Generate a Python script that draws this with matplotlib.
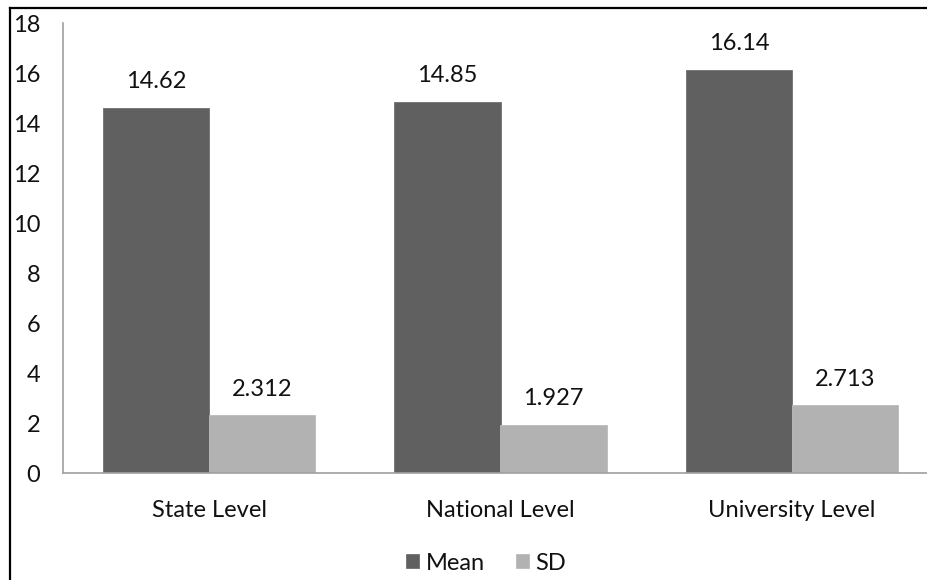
import matplotlib
matplotlib.use("Agg")
import matplotlib.pyplot as plt
import numpy as np
from matplotlib.lines import Line2D

categories = ["State Level", "National Level", "University Level"]
mean_vals = [14.62, 14.85, 16.14]
sd_vals = [2.312, 1.927, 2.713]
mean_labels = ["14.62", "14.85", "16.14"]
sd_labels = ["2.312", "1.927", "2.713"]
yticks = [0, 2, 4, 6, 8, 10, 12, 14, 16, 18]

plt.rcParams['font.family'] = ['Lato', 'DejaVu Sans']
FS = 17
W, H = 927, 580
fig = plt.figure(figsize=(W/100, H/100), dpi=100)
fig.patch.set_facecolor('white')

# axes: left 63, right ~938 (cropped), bottom 473, top 23
x0, x1, yb, yt = 63.25, 937.75, 473, 23
ax = fig.add_axes([x0/W, 1-yb/H, (x1-x0)/W, (yb-yt)/H])

x = np.arange(len(categories))
bw = 0.364
ax.bar(x - bw/2, mean_vals, bw, color='#606060', label='Mean', edgecolor='#707070', linewidth=0.6)
ax.bar(x + bw/2, sd_vals, bw, color='#B2B2B2', label='SD', edgecolor='#BBBBBB', linewidth=0.6)

for i in range(len(categories)):
    ax.annotate(mean_labels[i], (x[i]-bw/2, mean_vals[i]), xytext=(0, 26), textcoords='offset pixels',
                ha='center', va='center', fontsize=FS, color='#111111')
    ax.annotate(sd_labels[i], (x[i]+bw/2, sd_vals[i]), xytext=(0, 26), textcoords='offset pixels',
                ha='center', va='center', fontsize=FS, color='#111111')

ax.set_xlim(-0.5, len(categories)-0.5)
ax.set_ylim(0, 18)
ax.set_yticks(yticks)
ax.set_yticklabels([str(t) for t in yticks], fontsize=FS, color='#111111')
ax.set_xticks(x)
ax.set_xticklabels(categories, fontsize=FS, color='#111111')
ax.tick_params(axis='y', length=0, pad=16.5)
ax.tick_params(axis='x', length=0, pad=19.5)
for s in ['top', 'right']:
    ax.spines[s].set_visible(False)
for s in ['left', 'bottom']:
    ax.spines[s].set_color('#A0A0A0')
    ax.spines[s].set_linewidth(1.2)
ax.set_facecolor('none')

leg = fig.legend(loc='center', bbox_to_anchor=(486/W, 1-563/H), ncol=2, frameon=False,
                 fontsize=FS, handlelength=0.55, handleheight=0.55, handletextpad=0.3,
                 columnspacing=1.3)
for t in leg.get_texts():
    t.set_color('#111111')

# figure border lines (top and left)
fig.add_artist(Line2D([9.5/W, 1.0], [1-7.5/H, 1-7.5/H], transform=fig.transFigure, color='black', linewidth=1.6))
fig.add_artist(Line2D([9.5/W, 9.5/W], [0, 1-7.5/H], transform=fig.transFigure, color='black', linewidth=1.6))

fig.savefig('out.png', dpi=100)
